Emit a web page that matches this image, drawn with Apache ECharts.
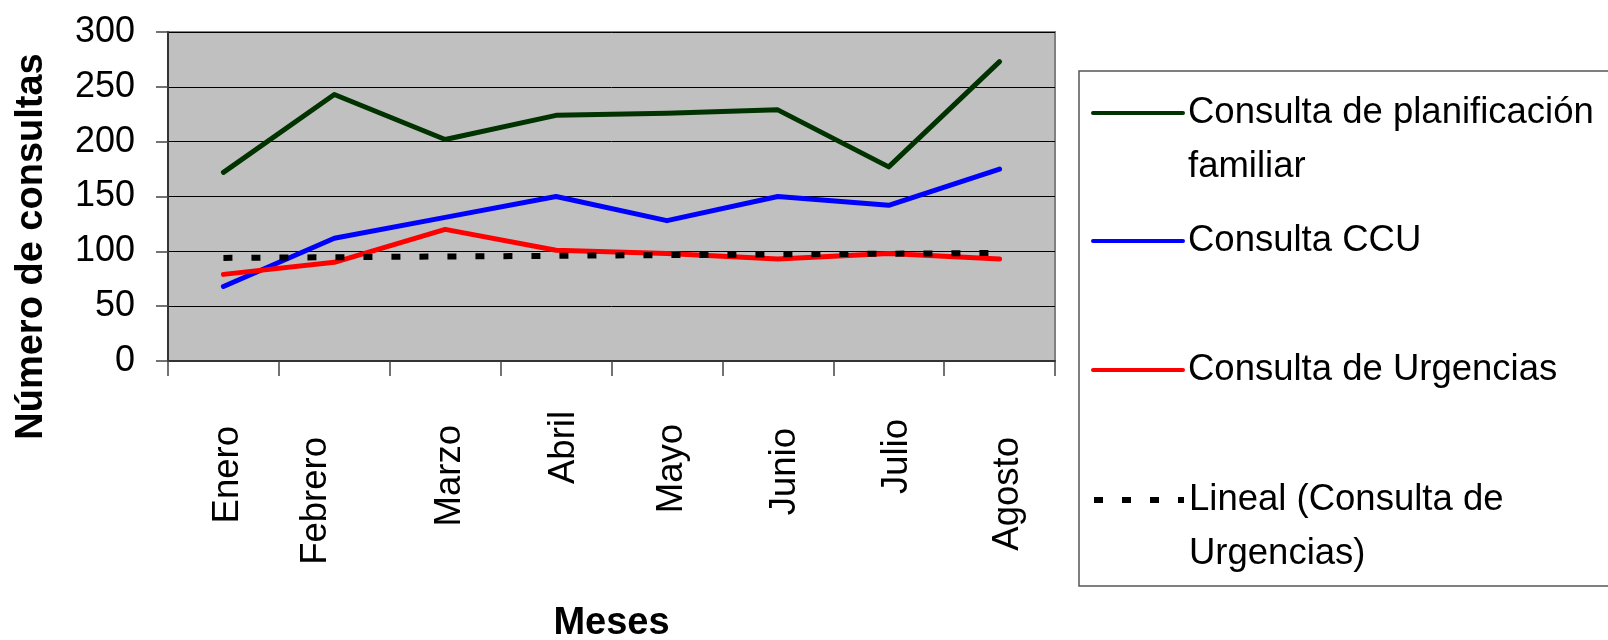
<!DOCTYPE html>
<html>
<head>
<meta charset="utf-8">
<title>Número de consultas por mes</title>
<script src="https://cdn.jsdelivr.net/npm/echarts@6/dist/echarts.min.js"></script>
<style>
  html, body { margin: 0; padding: 0; background: #ffffff; }
  #chart { width: 1608px; height: 640px; }
</style>
</head>
<body>
<div id="chart"></div>
<script>
// ---- data ----
const meses = ['Enero', 'Febrero', 'Marzo', 'Abril', 'Mayo', 'Junio', 'Julio', 'Agosto'];
const planificacionFamiliar = [172, 243, 202, 224, 226, 229, 177, 273];
const consultaCCU = [68, 112, 131, 150, 128, 150, 142, 175];
const consultaUrgencias = [79, 90, 120, 101, 98, 93, 98, 93];
// linear trend of the emergency visits: start (Enero) and end (Agosto) values
const tendenciaUrgencias = [94, null, null, null, null, null, null, 98.5];
const yTicks = [0, 50, 100, 150, 200, 250, 300];

const seriesNames = [
  'Consulta de planificación familiar',
  'Consulta CCU',
  'Consulta de Urgencias',
  'Lineal (Consulta de Urgencias)'
];
const legendLines = [
  ['Consulta de planificación', 'familiar'],
  ['Consulta CCU'],
  ['Consulta de Urgencias'],
  ['Lineal (Consulta de', 'Urgencias)']
];

// ---- layout / style ----
const colors = ['#003300', '#0000FF', '#FF0000', '#000000'];
const lineWidths = [5, 5, 5, 6];
const lineTypes = ['solid', 'solid', 'solid', [9, 19]];
// per-month label nudges: [right, down] in px
const labelShift = [[4.6, 15], [-18.8, 26], [4.3, 14], [7.9, 0], [5, 13], [7.2, 17], [8.3, 8], [8.4, 26]];
const LEGEND_LINE = 54;
const legendIconY = [113, 241, 370, 500];

// prefer a narrow face for the category/legend text when it is installed
function hasFont(family) {
  const ctx = document.createElement('canvas').getContext('2d');
  const probe = 'Consulta de planificación';
  ctx.font = '40px monospace';
  const base = ctx.measureText(probe).width;
  ctx.font = '40px "' + family + '", monospace';
  return Math.abs(ctx.measureText(probe).width - base) > 0.5;
}
const NARROW = hasFont('Liberation Sans Narrow');
const textFont = NARROW ? '"Liberation Sans Narrow", "Liberation Sans", Arial, sans-serif'
                        : '"Liberation Sans", Arial, sans-serif';
const textSize = NARROW ? 45 : 36.5;
const titleSize = NARROW ? 46 : 38;
const tickFont = '"Liberation Sans", Arial, sans-serif';

const rich = {};
labelShift.forEach(([dx, dy], i) => {
  rich['m' + i] = {
    fontFamily: textFont,
    fontSize: textSize,
    color: '#000',
    padding: [dx > 0 ? 2 * dx : 0, dy, dx < 0 ? -2 * dx : 0, 0]
  };
});

const seriesData = [planificacionFamiliar, consultaCCU, consultaUrgencias, tendenciaUrgencias];

const series = seriesData.map((data, i) => ({
  name: seriesNames[i],
  type: 'line',
  data: data,
  connectNulls: true,
  symbol: 'none',
  z: 2 + i,
  lineStyle: {
    color: colors[i],
    width: lineWidths[i],
    type: lineTypes[i],
    cap: i === 3 ? 'butt' : 'round',
    join: 'round'
  },
  itemStyle: { color: colors[i] }
}));

// one legend block per entry; two-line entries get a blank line above so the
// marker lines up with their first line
const legends = seriesNames.map((name, i) => {
  const lines = legendLines[i];
  const twoLine = lines.length > 1;
  const text = twoLine ? '\u00a0\n' + lines.join('\n') : lines[0];
  const half = twoLine ? 1.5 * LEGEND_LINE : 0.5 * LEGEND_LINE;
  return {
    orient: 'vertical',
    left: 1091,
    top: legendIconY[i] - half,
    padding: 0,
    itemWidth: 90,
    itemHeight: 14,
    data: [name],
    formatter: () => text,
    itemStyle: { opacity: 0 },
    lineStyle: {
      width: i === 3 ? 6 : 4,
      type: lineTypes[i],
      cap: i === 3 ? 'butt' : 'round'
    },
    textStyle: {
      fontFamily: textFont,
      fontSize: textSize,
      color: '#000',
      lineHeight: LEGEND_LINE
    }
  };
});

const chart = echarts.init(document.getElementById('chart'), null, { renderer: 'canvas' });
chart.setOption({
  animation: false,
  backgroundColor: '#ffffff',
  graphic: [{
    type: 'rect',
    z: 0,
    shape: { x: 1079, y: 71, width: 560, height: 515 },
    style: { fill: '#ffffff', stroke: '#555555', lineWidth: 1.5 }
  }],
  legend: legends,
  grid: {
    left: 168, right: 553, top: 32, bottom: 279,
    containLabel: false,
    outerBoundsMode: 'none',
    show: true,
    backgroundColor: '#C0C0C0',
    borderColor: '#808080',
    borderWidth: 2
  },
  xAxis: {
    type: 'category',
    data: meses,
    boundaryGap: true,
    axisLine: { lineStyle: { color: '#333', width: 2 } },
    axisTick: { show: true, length: 15, lineStyle: { color: '#444', width: 1.5 } },
    axisLabel: {
      interval: 0,
      rotate: 90,
      margin: 50,
      hideOverlap: false,
      formatter: (v, i) => '{m' + i + '|' + v + '}',
      rich: rich
    },
    name: 'Meses',
    nameLocation: 'middle',
    nameGap: 240,
    nameTextStyle: {
      fontFamily: textFont, fontSize: titleSize, fontWeight: 'bold', color: '#000', lineHeight: 46
    }
  },
  yAxis: {
    type: 'value',
    min: yTicks[0],
    max: yTicks[yTicks.length - 1],
    interval: yTicks[1] - yTicks[0],
    axisLine: { show: true, lineStyle: { color: '#333', width: 2 } },
    axisTick: { show: true, length: 12, lineStyle: { color: '#444', width: 1.5 } },
    splitLine: { show: true, lineStyle: { color: '#000', width: 1 } },
    axisLabel: { fontFamily: tickFont, fontSize: 36, color: '#000', margin: 33 },
    name: 'Número de consultas',
    nameLocation: 'middle',
    nameRotate: 90,
    nameGap: 113,
    nameTextStyle: {
      fontFamily: textFont, fontSize: titleSize, fontWeight: 'bold', color: '#000',
      lineHeight: 46, padding: [0, 100, 0, 0]
    }
  },
  series: series
});
</script>
</body>
</html>
